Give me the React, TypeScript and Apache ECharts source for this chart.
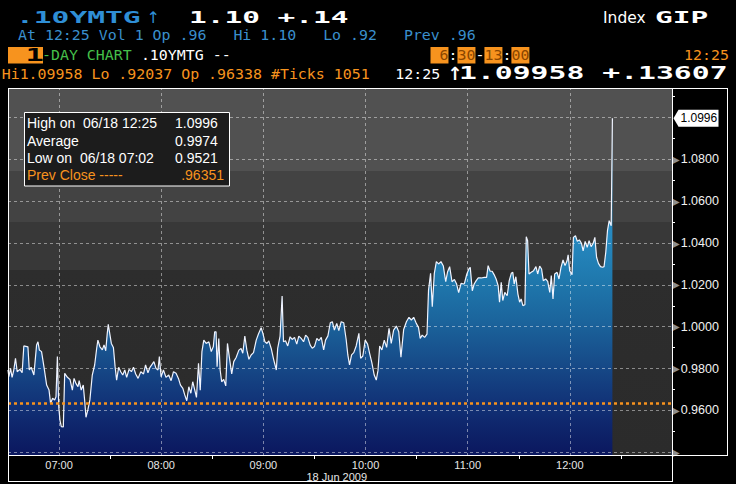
import React, { useEffect, useRef } from 'react';
import * as echarts from 'echarts';

// minutes after midnight (18 Jun 2009) and index values
const minutes = [
  390.0, 390.5, 391.5, 392.4, 393.4, 394.4, 395.4, 397.0, 398.3, 399.3, 401.7, 402.5, 403.6, 405.2, 406.8, 407.6,
  408.4, 409.7, 411.1, 412.7, 414.1, 415.0, 416.2, 417.4, 418.2, 419.0, 419.8, 420.5, 421.3, 422.5, 423.3, 424.9,
  426.4, 427.8, 428.8, 429.9, 431.1, 431.8, 433.0, 434.2, 435.0, 435.8, 436.9, 438.1, 439.5, 440.9, 442.1, 442.8,
  444.0, 445.4, 446.4, 447.4, 448.3, 448.9, 449.9, 450.7, 451.9, 452.9, 453.8, 455.0, 456.2, 457.4, 458.6, 459.7,
  461.1, 462.5, 463.7, 465.0, 466.4, 468.0, 469.6, 470.8, 472.2, 473.4, 474.8, 475.7, 476.9, 478.1,
  478.9, 479.9, 481.3, 482.8, 484.4, 485.8, 487.2, 488.7, 490.1, 491.3, 492.7, 493.8, 495.0, 496.2, 497.4, 498.5,
  499.7, 500.7, 501.9, 502.9, 503.9, 505.0, 506.4, 508.0, 509.4, 510.6, 511.4, 512.2, 512.8, 513.8, 514.6, 515.5,
  516.7, 517.9, 518.9, 520.1, 521.4, 522.6, 524.0, 525.6, 526.9, 527.9, 529.1, 530.3, 531.5, 532.8, 534.2, 535.8,
  537.1, 538.7, 539.7, 540.9, 542.1, 543.2, 544.6, 546.0, 547.6, 548.4, 549.8, 551.0, 551.8, 553.0, 554.3, 555.7,
  556.9, 558.3, 559.6, 560.8, 562.2, 563.6, 564.8, 566.1, 567.5,
  568.7, 570.0, 571.4, 572.6, 574.0, 575.4, 576.5, 577.9, 579.3, 580.5, 581.7, 583.1, 584.3, 585.7, 587.2, 588.6,
  589.6, 590.6, 591.8, 593.1, 594.5, 596.1, 597.1, 598.4, 599.8, 601.2, 602.4, 603.7, 605.1, 606.3, 607.3, 608.3,
  609.6, 611.0, 612.4, 613.8, 615.1, 616.5, 618.1, 619.5, 620.8, 622.4, 624.0, 625.5, 626.9, 628.3, 629.8, 631.1,
  632.1, 633.3, 634.7, 636.1, 637.0, 638.2, 639.2, 640.4, 641.6, 642.9, 644.3, 645.7, 647.1, 648.2, 649.4, 650.8,
  652.2, 653.5, 654.7, 656.1, 657.7,
  658.1, 659.5, 660.7, 661.5, 662.7, 663.8, 665.0, 666.2, 668.0, 669.7, 671.1, 672.0, 673.2, 674.4, 675.5, 676.7,
  677.9, 678.7, 679.7, 680.6, 681.8, 683.2, 684.4, 685.6, 686.5, 687.3, 688.3, 689.5, 690.5, 691.4, 692.4, 693.6,
  694.4, 695.2, 696.0, 697.3, 698.7, 700.1, 701.1, 702.3, 703.4, 704.4, 705.8, 707.0, 708.2, 709.1, 710.1, 711.1,
  712.5, 713.6, 714.8, 716.0, 717.2, 718.4, 719.0, 719.9, 721.3, 722.1, 723.3, 724.4, 725.6, 726.8, 727.8, 729.0,
  730.2, 731.3, 732.5, 733.7, 734.7, 735.7, 736.8, 738.0, 739.2, 740.1, 741.1, 742.1, 743.1, 744.3, 745.0,
];
const values = [
  0.9793, 0.9761, 0.9801, 0.9758, 0.9793, 0.9849, 0.9785, 0.9796, 0.9780, 0.9908, 0.9904, 0.9793, 0.9806, 0.9769, 0.9913, 0.9928,
  0.9889, 0.9881, 0.9809, 0.9721, 0.9697, 0.9634, 0.9658, 0.9650, 0.9665, 0.9857, 0.9618, 0.9554, 0.9522, 0.9521, 0.9777, 0.9758,
  0.9748, 0.9697, 0.9753, 0.9729, 0.9713, 0.9742, 0.9697, 0.9721, 0.9650, 0.9567, 0.9602, 0.9650, 0.9769, 0.9817, 0.9897, 0.9936,
  0.9904, 0.9889, 0.9913, 0.9885, 0.9968, 1.0011, 0.9960, 0.9920, 0.9901, 0.9809, 0.9745, 0.9806, 0.9785, 0.9769, 0.9793, 0.9758,
  0.9796, 0.9785, 0.9806, 0.9774, 0.9753, 0.9785, 0.9774, 0.9817, 0.9780, 0.9806, 0.9822, 0.9833, 0.9801, 0.9793,
  0.9857, 0.9761, 0.9793, 0.9758, 0.9769, 0.9742, 0.9785, 0.9777, 0.9753, 0.9721, 0.9705, 0.9674, 0.9646, 0.9713, 0.9682, 0.9737,
  0.9697, 0.9662, 0.9825, 0.9697, 0.9881, 0.9936, 0.9920, 0.9928, 0.9881, 0.9905, 0.9976, 0.9976, 0.9809, 0.9944, 0.9793, 0.9737,
  0.9748, 0.9717, 0.9920, 0.9849, 0.9774, 0.9833, 0.9853, 0.9888, 0.9896, 0.9873, 0.9955, 0.9888, 0.9844, 0.9865, 0.9876, 0.9936,
  0.9965, 0.9995, 0.9968, 0.9928, 0.9920, 0.9932, 0.9896, 0.9844, 0.9793, 0.9896, 0.9955, 1.0147, 0.9928, 0.9933, 0.9908, 0.9952,
  0.9939, 0.9949, 0.9917, 0.9955, 0.9944, 0.9928, 0.9960, 0.9949, 0.9912,
  0.9897, 0.9905, 0.9944, 0.9933, 0.9949, 0.9889, 0.9936, 0.9956, 1.0019, 1.0024, 0.9984, 1.0016, 0.9981, 1.0024, 1.0019, 0.9940,
  0.9865, 0.9817, 0.9865, 0.9876, 0.9908, 0.9968, 0.9849, 0.9860, 0.9936, 0.9917, 0.9873, 0.9828, 0.9769, 0.9745, 0.9790, 0.9908,
  0.9889, 0.9936, 0.9901, 0.9992, 0.9920, 0.9984, 1.0003, 0.9976, 0.9854, 0.9987, 1.0024, 1.0045, 1.0032, 1.0045, 1.0016, 0.9997,
  0.9944, 0.9960, 0.9949, 0.9965, 1.0175, 1.0255, 1.0096, 1.0255, 1.0311, 1.0300, 1.0311, 1.0290, 1.0215, 1.0263, 1.0287, 1.0215,
  1.0226, 1.0204, 1.0163, 1.0207, 1.0204,
  1.0207, 1.0252, 1.0276, 1.0284, 1.0172, 1.0204, 1.0220, 1.0233, 1.0233, 1.0236, 1.0236, 1.0292, 1.0265, 1.0265, 1.0249, 1.0228,
  1.0196, 1.0117, 1.0212, 1.0125, 1.0164, 1.0148, 1.0220, 1.0255, 1.0260, 1.0204, 1.0239, 1.0156, 1.0117, 1.0133, 1.0101, 1.0105,
  1.0430, 1.0411, 1.0252, 1.0260, 1.0268, 1.0287, 1.0252, 1.0290, 1.0276, 1.0220, 1.0228, 1.0217, 1.0164, 1.0244, 1.0133, 1.0252,
  1.0260, 1.0228, 1.0284, 1.0319, 1.0292, 1.0316, 1.0344, 1.0268, 1.0249, 1.0427, 1.0435, 1.0408, 1.0415, 1.0399, 1.0363, 1.0408,
  1.0379, 1.0411, 1.0383, 1.0399, 1.0427, 1.0332, 1.0303, 1.0287, 1.0284, 1.0287, 1.0356, 1.0459, 1.0507, 1.0483, 1.0996,
];

const sessionStart = 390; // 06:30
const sessionEnd = 780; // 13:00
const hourMinutes = [420, 480, 540, 600, 660, 720];
const halfHourMinutes = [450, 510, 570, 630, 690, 750];
const priceGridValues = [0.94, 0.96, 0.98, 1.0, 1.02, 1.04, 1.06, 1.08, 1.1];
const priceLabelValues = [0.94, 0.96, 0.98, 1.0, 1.02, 1.04, 1.06, 1.08];
const priceMinorTicks = [0.95, 0.97, 0.99, 1.01, 1.03, 1.05, 1.07, 1.09, 1.11];
const yMin = 0.9382;
const yMax = 1.1141;
const prevClose = 0.96351;
const lastValue = 1.0996;
const statRows = [
  { label: 'High on  06/18 12:25', value: '1.0996' },
  { label: 'Average', value: '0.9974' },
  { label: 'Low on  06/18 07:02', value: '0.9521' },
];
const prevCloseText = '.96351';
const dateText = '18 Jun 2009';

const ORANGE = '#f7931e';
const BLUE1 = '#2f8fd6';
const BLUE2 = '#3a8fcc';
const GREEN = '#45bf4a';
const MONO = '"DejaVu Sans Mono", monospace';
const SANS = '"Liberation Sans", Arial, sans-serif';
const CW = 8.99;

const pad2 = (n: number) => String(n).padStart(2, '0');
const fmtTime = (m: number) => `${pad2(Math.floor(m / 60))}:${pad2(Math.round(m % 60))}`;

const mono = (text: string, x: number, y: number, fill: string, align = 'left') => ({
  type: 'text', x, y, scaleX: 1.066, z: 60,
  style: { text, fill, font: `14px ${MONO}`, verticalAlign: 'middle', align },
});
const wide = (text: string, x: number, y: number, fill: string, size: number, sx: number, align = 'left') => ({
  type: 'text', x, y, scaleX: sx, z: 60,
  style: { text, fill, font: `bold ${size}px ${MONO}`, verticalAlign: 'middle', align },
});
const hline = (x1: number, y1: number, x2: number, y2: number) => ({
  type: 'line', z: 80, silent: true,
  shape: { x1, y1, x2, y2 },
  style: { stroke: '#ffffff', lineWidth: 1 },
});

function staticGraphics(): any[] {
  const g: any[] = [];
  // header line 1
  g.push(wide('.10YMTG', 16, 17.5, BLUE1, 16, 1.85));
  g.push({ type: 'text', x: 153.3, y: 17.5, z: 60, style: { text: '\u2191', fill: BLUE1, font: `16px "DejaVu Sans"`, verticalAlign: 'middle', align: 'center' } });
  g.push(wide('1.10 +.14', 189, 17.5, '#ffffff', 16, 1.84));
  g.push({ type: 'text', x: 603, y: 17.5, z: 60, style: { text: 'Index', fill: '#ffffff', font: `15.5px "DejaVu Sans"`, verticalAlign: 'middle' } });
  g.push(wide('GIP', 655, 17.5, '#ffffff', 16, 1.84));
  // header line 2
  g.push(mono('At 12:25 Vol 1 Op .96   Hi 1.10   Lo .92   Prev .96', 18, 35.3, BLUE2));
  // header line 3
  g.push({ type: 'rect', z: 55, shape: { x: 8, y: 47, width: 35, height: 16.5 }, style: { fill: ORANGE } });
  g.push(wide('1', 44, 55.5, '#000000', 17, 1.8, 'right'));
  g.push(mono('-DAY CHART', 42, 55.5, GREEN));
  g.push(mono('.10YMTG --', 42 + 11 * CW, 55.5, '#ffffff'));
  const x0 = 430.5;
  [0, 3, 6, 9].forEach((c) => {
    g.push({ type: 'rect', z: 55, shape: { x: x0 + c * CW, y: 47, width: 2 * CW, height: 16.5 }, style: { fill: ORANGE } });
  });
  const pieces: [string, number, string][] = [
    [' 6', 0, '#8a4600'], [':', 2, '#ffffff'], ['30', 3, '#8a4600'], ['-', 5, '#ffffff'],
    ['13', 6, '#8a4600'], [':', 8, '#ffffff'], ['00', 9, '#8a4600'],
  ];
  pieces.forEach(([t, c, f]) => g.push(mono(t, x0 + c * CW, 55.5, f)));
  g.push(mono('12:25', 729, 55.5, ORANGE, 'right'));
  // header line 4
  g.push(mono('Hi1.09958 Lo .92037 Op .96338 #Ticks 1051', 1.7, 74, ORANGE));
  g.push(mono('12:25', 395.3, 74, '#ffffff'));
  g.push({ type: 'text', x: 454.7, y: 73.5, z: 60, style: { text: '\u2191', fill: '#ffffff', font: `bold 18px "DejaVu Sans"`, verticalAlign: 'middle', align: 'center' } });
  g.push(wide('1.09958 +.13607', 459, 73.5, '#ffffff', 17, 1.75));

  // frames
  g.push(hline(8, 88.5, 728, 88.5));
  g.push(hline(8.5, 88, 8.5, 482));
  g.push(hline(8, 481.5, 673, 481.5));
  g.push(hline(672.5, 88, 672.5, 482));
  g.push(hline(727.5, 88, 727.5, 456));
  g.push(hline(8, 455.5, 728, 455.5));

  // date under the time axis
  g.push({ type: 'text', x: 306.5, y: 477, z: 60, style: { text: dateText, fill: '#e6e6e6', font: `11px ${SANS}`, verticalAlign: 'middle' } });

  // statistics box
  g.push({ type: 'rect', z: 90, shape: { x: 24.5, y: 112.5, width: 205, height: 73.5 }, style: { fill: '#1c1c1c', stroke: '#ffffff', lineWidth: 1 } });
  const rowsY = [123.3, 140.8, 158.3, 175.3];
  statRows.forEach((r, i) => {
    g.push({ type: 'text', x: 27, y: rowsY[i], z: 95, style: { text: r.label, fill: '#ffffff', font: `14px ${SANS}`, verticalAlign: 'middle' } });
    g.push({ type: 'text', x: 175, y: rowsY[i], z: 95, style: { text: r.value, fill: '#ffffff', font: `14px ${SANS}`, verticalAlign: 'middle' } });
  });
  g.push({ type: 'text', x: 27, y: rowsY[3], z: 95, style: { text: 'Prev Close -----', fill: ORANGE, font: `14px ${SANS}`, verticalAlign: 'middle' } });
  g.push({ type: 'text', x: 224, y: rowsY[3], z: 95, style: { text: prevCloseText, fill: ORANGE, font: `14px ${SANS}`, verticalAlign: 'middle', align: 'right' } });
  return g;
}

function lastValueBox(xr: number, yc: number): any[] {
  const tip = xr + 1.5;
  return [
    {
      type: 'polygon', z: 85,
      shape: { points: [[tip, yc], [tip + 5, yc - 8.5], [tip + 45, yc - 8.5], [tip + 45, yc + 8.5], [tip + 5, yc + 8.5]] },
      style: { fill: '#ffffff' },
    },
    { type: 'text', x: tip + 7, y: yc, z: 86, style: { text: lastValue.toFixed(4), fill: '#000000', font: `12px ${SANS}`, verticalAlign: 'middle' } },
  ];
}

export default function App() {
  const ref = useRef<HTMLDivElement>(null);
  useEffect(() => {
    document.body.style.margin = '0';
    document.body.style.background = '#000';
    const chart = echarts.init(ref.current!, null, { renderer: 'svg' });
    const gridLine = { color: 'rgba(255,255,255,0.45)', type: [3, 3] as any, width: 1 };
    const option: any = {
      animation: false,
      backgroundColor: '#000000',
      grid: {
        show: true, left: 8, top: 88, width: 664, height: 368, borderWidth: 0,
        backgroundColor: {
          type: 'linear', x: 0, y: 0, x2: 0, y2: 1,
          colorStops: [
            { offset: 0, color: '#515151' }, { offset: 0.226, color: '#515151' },
            { offset: 0.226, color: '#434343' }, { offset: 0.364, color: '#434343' },
            { offset: 0.364, color: '#383838' }, { offset: 0.495, color: '#383838' },
            { offset: 0.495, color: '#2d2d2d' }, { offset: 1, color: '#2b2b2b' },
          ],
        },
      },
      xAxis: {
        type: 'value', min: sessionStart, max: sessionEnd, interval: 30,
        axisLine: { show: false, onZero: false },
        splitLine: { show: false },
        axisTick: { show: true, customValues: halfHourMinutes, length: 3, lineStyle: { color: '#ffffff' } },
        axisLabel: {
          customValues: hourMinutes, margin: 3, color: '#e6e6e6', fontSize: 11, fontFamily: SANS,
          formatter: (v: number) => fmtTime(v),
        },
      },
      yAxis: {
        type: 'value', position: 'right', min: yMin, max: yMax,
        axisLine: { show: false, onZero: false },
        splitLine: { show: false },
        axisTick: { show: true, customValues: priceMinorTicks, length: 3, lineStyle: { color: '#ffffff' } },
        axisLabel: {
          customValues: priceLabelValues, margin: 0,
          formatter: (v: number) => (Math.abs(v - 0.94) < 1e-6 ? '{t|\u25B6}' : `{t|\u25B6}{v|${v.toFixed(4)}}`),
          rich: {
            t: { fontSize: 10, color: '#8f8f8f', fontFamily: '"DejaVu Sans"' },
            v: { fontSize: 12.5, color: '#f2f2f2', fontFamily: SANS, padding: [0, 0, 0, 1] },
          },
        },
      },
      series: [
        {
          type: 'line',
          data: minutes.map((m, i) => [m, values[i]]),
          showSymbol: false, symbol: 'none',
          lineStyle: { color: '#f0f4ff', width: 1.2 },
          areaStyle: {
            origin: 'start', opacity: 1,
            color: new echarts.graphic.LinearGradient(0, 0, 0, 1, [
              { offset: 0, color: '#3d9fd8' },
              { offset: 0.35, color: '#2689c0' },
              { offset: 0.48, color: '#1f78ad' },
              { offset: 0.6, color: '#1b649c' },
              { offset: 0.715, color: '#174d8a' },
              { offset: 0.83, color: '#123579' },
              { offset: 0.92, color: '#0e246a' },
              { offset: 1, color: '#0b175e' },
            ]),
          },
          markLine: {
            silent: true, symbol: ['none', 'none'], animation: false, precision: 6,
            label: { show: false },
            lineStyle: gridLine,
            data: [
              ...hourMinutes.map((m) => ({ xAxis: m })),
              ...priceGridValues.map((v) => ({ yAxis: v })),
              { yAxis: prevClose, lineStyle: { color: ORANGE, type: [3, 3], width: 2.6 } },
            ],
          },
        },
      ],
    };
    chart.setOption(option);
    const yc = chart.convertToPixel({ yAxisIndex: 0 }, lastValue) as number;
    const xr = chart.convertToPixel({ xAxisIndex: 0 }, sessionEnd) as number;
    chart.setOption({ graphic: [...staticGraphics(), ...lastValueBox(xr, yc)] });
    return () => chart.dispose();
  }, []);
  return <div ref={ref} style={{ width: 736, height: 484 }} />;
}
